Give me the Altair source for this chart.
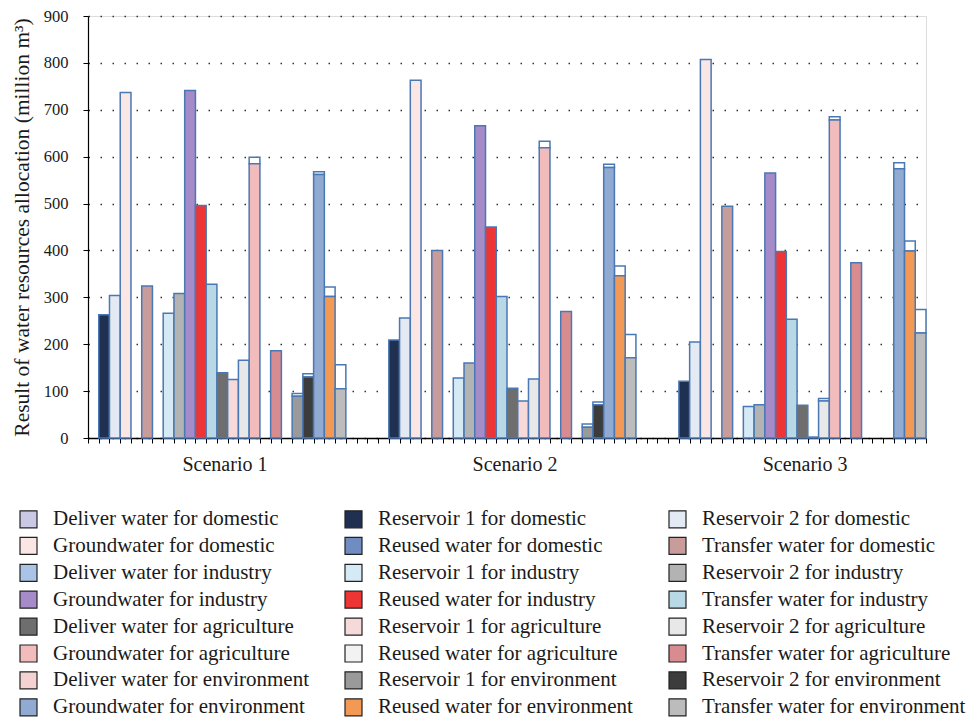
import altair as alt
import pandas as pd

scenarios = ["Scenario 1", "Scenario 2", "Scenario 3"]

series = [
    "Deliver water for domestic", "Reservoir 1 for domestic", "Reservoir 2 for domestic",
    "Groundwater for domestic", "Reused water for domestic", "Transfer water for domestic",
    "Deliver water for industry", "Reservoir 1 for industry", "Reservoir 2 for industry",
    "Groundwater for industry", "Reused water for industry", "Transfer water for industry",
    "Deliver water for agriculture", "Reservoir 1 for agriculture", "Reservoir 2 for agriculture",
    "Groundwater for agriculture", "Reused water for agriculture", "Transfer water for agriculture",
    "Deliver water for environment", "Reservoir 1 for environment", "Reservoir 2 for environment",
    "Groundwater for environment", "Reused water for environment", "Transfer water for environment",
]

# main (patterned) segment of each bar, per scenario, in series order
values_s1 = [0, 263, 304, 737, 0, 324, 0, 266, 308, 741, 496, 328,
             139, 125, 166, 585, 0, 186, 0, 89, 130, 562, 302, 105]
values_s2 = [0, 209, 256, 763, 0, 400, 0, 128, 160, 666, 450, 302,
             106, 79, 126, 619, 0, 270, 0, 23, 71, 577, 346, 171]
values_s3 = [0, 121, 205, 807, 0, 494, 0, 67, 71, 565, 398, 253,
             70, 2, 79, 678, 0, 374, 0, 0, 0, 574, 399, 224]

# top of the white upper segment (0 = no upper segment)
tops_s1 = [0, 0, 0, 0, 0, 0, 0, 0, 0, 0, 0, 0,
           0, 0, 0, 599, 0, 0, 0, 95, 137, 568, 322, 156]
tops_s2 = [0, 0, 0, 0, 0, 0, 0, 0, 0, 0, 0, 0,
           0, 0, 0, 633, 0, 0, 0, 30, 77, 584, 367, 221]
tops_s3 = [0, 0, 0, 0, 0, 0, 0, 0, 0, 0, 0, 0,
           0, 0, 84, 685, 0, 0, 0, 0, 0, 587, 420, 274]

colors = [
    "#c9c9e6", "#1f3050", "#e4eaf4", "#fbe6e6", "#6f8dc2", "#c99c9c",
    "#a9c4e6", "#d6eaf6", "#b3b3b3", "#a68bc9", "#ee3535", "#b8d8e6",
    "#6e6e6e", "#f6dada", "#e8e8e8", "#f2bcbc", "#f2f2f2", "#d98c90",
    "#f5d2d2", "#9a9a9a", "#3c3c3c", "#90aad2", "#f29a55", "#bcbcbc",
]

slots_per_scenario = 27
n_slots = 78
label_offset = 12.75

rows = []
for s, (vals, tops) in enumerate([(values_s1, tops_s1), (values_s2, tops_s2), (values_s3, tops_s3)]):
    for i, name in enumerate(series):
        rows.append({
            "scenario": scenarios[s],
            "series": name,
            "slot": s * slots_per_scenario + i,
            "slot_end": s * slots_per_scenario + i + 1,
            "base": 0,
            "value": vals[i],
            "top": tops[i],
        })
df = pd.DataFrame(rows)

lab = pd.DataFrame({
    "scenario": scenarios,
    "pos": [s * slots_per_scenario + label_offset for s in range(len(scenarios))],
})

# legend is filled column by column (8 rows x 3 columns); reorder so it reads row by row
n_cols, n_rows = 3, 8
legend_domain = [series[(k % n_rows) * n_cols + k // n_rows] for k in range(len(series))]
color_of = dict(zip(series, colors))
legend_range = [color_of[n] for n in legend_domain]

FONT = "Liberation Serif"
TXT = "#1a1a1a"
BAR_STROKE = "#4a78b4"
YTITLE = "Result of water resources allocation (million m³)"

xscale = alt.Scale(domain=[0, n_slots], nice=False, zero=False)
xaxis = alt.Axis(values=list(range(n_slots + 1)), labels=False, title=None, grid=False,
                 tickSize=5, tickColor="#000", domainColor="#000", domainWidth=1.5, tickWidth=1)
yscale = alt.Scale(domain=[0, 900], nice=False)
yaxis = alt.Axis(values=list(range(0, 901, 100)), title=YTITLE, titleFont=FONT, titleFontSize=21.5,
                 titleFontWeight="normal", titleColor=TXT, labelFont=FONT, labelFontSize=16.5,
                 labelColor=TXT, tickSize=5, tickColor="#000", domainColor="#000", domainWidth=1.2,
                 labelPadding=15, titlePadding=10, grid=True, gridDash=[1.5, 10.5],
                 gridColor="#333", gridWidth=1.5)

base = alt.Chart(df)

white = base.transform_filter("datum.top > datum.value").mark_bar(
    fill="white", stroke=BAR_STROKE, strokeWidth=1.5
).encode(
    x=alt.X("slot:Q", scale=xscale, axis=xaxis),
    x2="slot_end:Q",
    y=alt.Y("value:Q", scale=yscale, axis=yaxis, title=YTITLE),
    y2="top:Q",
)

bars = base.transform_filter("datum.value > 0").mark_bar(
    stroke=BAR_STROKE, strokeWidth=1.5
).encode(
    x=alt.X("slot:Q", scale=xscale, axis=xaxis),
    x2="slot_end:Q",
    y=alt.Y("value:Q", scale=yscale, axis=yaxis, title=YTITLE),
    y2="base:Q",
    color=alt.Color("series:N", scale=alt.Scale(domain=legend_domain, range=legend_range),
                    legend=alt.Legend(title=None, orient="none", legendX=-70, legendY=492.5,
                                      columns=n_cols, symbolType="square", symbolSize=289,
                                      symbolStrokeColor="#222", symbolStrokeWidth=1.2,
                                      symbolOpacity=1, labelFont=FONT, labelFontSize=21,
                                      labelColor=TXT, labelOffset=14, columnPadding=33,
                                      rowPadding=3.9, labelLimit=400, padding=0,
                                      gridAlign="each")),
    tooltip=["scenario:N", "series:N", "value:Q"],
)

labels = alt.Chart(lab).mark_text(font=FONT, fontSize=20, color=TXT, baseline="middle").encode(
    x=alt.X("pos:Q", scale=xscale, axis=xaxis),
    y=alt.value(449),
    text="scenario:N",
)

chart = alt.layer(white, bars, labels).properties(
    width=838, height=422,
    padding={"left": 80, "top": 8, "right": 40, "bottom": 280},
    autosize=alt.AutoSizeParams(type="none"),
).configure_view(stroke="#222", strokeWidth=1).configure(background="white")

chart.save("out.html", embed_options={"renderer": "svg", "actions": False})
